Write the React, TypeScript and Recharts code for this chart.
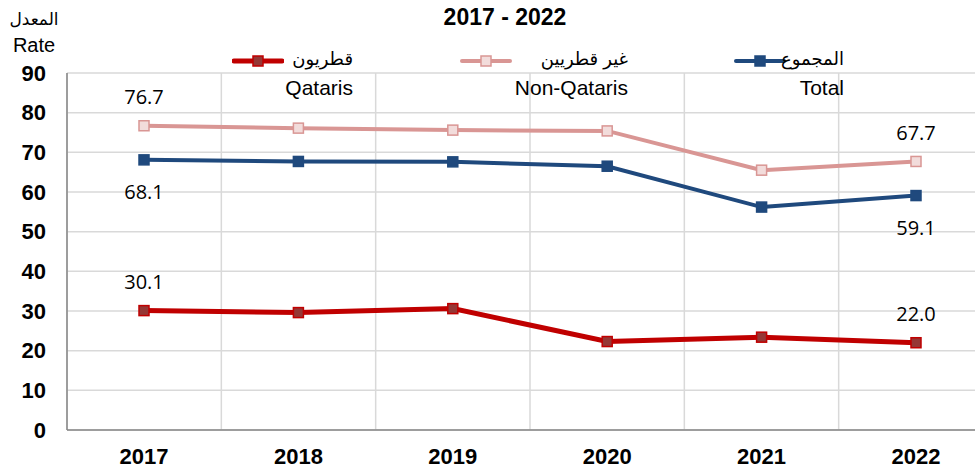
import { LineChart, Line, XAxis, YAxis, CartesianGrid } from "recharts";

const years = ["2017", "2018", "2019", "2020", "2021", "2022"];
const qataris = [30.1, 29.6, 30.6, 22.3, 23.4, 22.0];
const nonQataris = [76.7, 76.1, 75.6, 75.4, 65.5, 67.7];
const total = [68.1, 67.7, 67.6, 66.5, 56.2, 59.1];
const yTicks = [0, 10, 20, 30, 40, 50, 60, 70, 80, 90];

const seriesInfo = [
  { key: "qataris", ar: "قطريون", en: "Qataris", color: "#C00000", fill: "#953735", width: 5, right: 353, lineLeft: 232 },
  { key: "nonQataris", ar: "غير قطريين", en: "Non-Qataris", color: "#D99694", fill: "#F2DCDB", width: 4, right: 628, lineLeft: 460 },
  { key: "total", ar: "المجموع", en: "Total", color: "#1F497D", fill: "#1F497D", width: 4, right: 844, lineLeft: 734 },
];

const data = years.map((year, i) => ({
  year,
  qataris: qataris[i],
  nonQataris: nonQataris[i],
  total: total[i],
}));

const labelFont = "'Open Sans', 'Liberation Sans', sans-serif";
const arialFont = "'Liberation Sans', Arial, 'DejaVu Sans', sans-serif";

// marker + end value labels (first and last year only)
function makeDot(stroke: string, fill: string, labelDy: number) {
  return (props: any) => {
    const { cx, cy, index, value } = props;
    if (cx == null || cy == null) return <g key={`d-${index}`} />;
    const showLabel = index === 0 || index === years.length - 1;
    const v = Array.isArray(value) ? value[1] : value;
    return (
      <g key={`d-${stroke}-${index}`}>
        <rect x={cx - 5} y={cy - 5} width={10} height={10} fill={fill} stroke={stroke} strokeWidth={1.5} />
        {showLabel && (
          <text x={cx} y={cy + labelDy} textAnchor="middle" dominantBaseline="central" fontFamily={labelFont} fontSize={20} fill="#000">
            {Number(v).toFixed(1)}
          </text>
        )}
      </g>
    );
  };
}

function LegendBox() {
  return (
    <div style={{ position: "absolute", left: 0, top: 0, width: 1000, height: 100, pointerEvents: "none", zIndex: 2 }}>
      {seriesInfo.map((s) => (
        <div key={s.key}>
          <svg style={{ position: "absolute", left: s.lineLeft, top: 53 }} width={52} height={16}>
            <line x1={2} y1={8} x2={50} y2={8} stroke={s.color} strokeWidth={s.width} strokeLinecap="round" />
            <rect x={21} y={3} width={10} height={10} fill={s.fill} stroke={s.color} strokeWidth={1.5} />
          </svg>
          <div style={{ position: "absolute", right: 1000 - s.right, top: 47, fontFamily: arialFont, fontSize: 18, lineHeight: "24px", color: "#000", whiteSpace: "nowrap", direction: "rtl" }}>
            {s.ar}
          </div>
          <div style={{ position: "absolute", right: 1000 - s.right, top: 76, fontFamily: arialFont, fontSize: 21, lineHeight: "24px", color: "#000", whiteSpace: "nowrap" }}>
            {s.en}
          </div>
        </div>
      ))}
    </div>
  );
}

export default function App() {
  return (
    <div style={{ position: "absolute", left: 0, top: 0, width: 975, height: 469, overflow: "hidden", background: "#fff" }}>
      <div style={{ position: "absolute", left: 0, top: 4, width: 1010, textAlign: "center", fontFamily: arialFont, fontWeight: "bold", fontSize: 23, lineHeight: "26px", color: "#000" }}>
        2017 - 2022
      </div>
      <div style={{ position: "absolute", left: 0, top: 9, width: 68, textAlign: "center", fontFamily: arialFont, fontSize: 17, lineHeight: "22px", color: "#000", direction: "rtl" }}>
        المعدل
      </div>
      <div style={{ position: "absolute", left: 0, top: 33, width: 68, textAlign: "center", fontFamily: arialFont, fontSize: 20, lineHeight: "24px", color: "#000" }}>
        Rate
      </div>
      <LineChart width={1000} height={469} data={data} margin={{ top: 73, right: 7, bottom: 0, left: 0 }}>
        <CartesianGrid
          stroke="#D9D9D9"
          strokeWidth={1.5}
          verticalCoordinatesGenerator={({ offset }: any) =>
            years.map((_, i) => offset.left + (i * offset.width) / years.length).concat(offset.left + offset.width)
          }
        />
        <XAxis
          dataKey="year"
          padding={{ left: 77, right: 77 }}
          height={39}
          tickLine={false}
          tickMargin={12}
          axisLine={{ stroke: "#868686", strokeWidth: 1.5 }}
          tick={{ fontFamily: arialFont, fontWeight: "bold", fontSize: 22, fill: "#000" }}
          interval={0}
        />
        <YAxis
          domain={[0, 90]}
          ticks={yTicks}
          width={67}
          tickLine={false}
          tickMargin={15}
          axisLine={{ stroke: "#868686", strokeWidth: 1.5 }}
          tick={{ fontFamily: arialFont, fontWeight: "bold", fontSize: 22, fill: "#000" }}
          interval={0}
        />
        <Line dataKey="nonQataris" name="Non-Qataris" stroke="#D99694" strokeWidth={4} dot={makeDot("#D99694", "#F2DCDB", -29)} isAnimationActive={false} />
        <Line dataKey="total" name="Total" stroke="#1F497D" strokeWidth={4} dot={makeDot("#1F497D", "#1F497D", 32)} isAnimationActive={false} />
        <Line dataKey="qataris" name="Qataris" stroke="#C00000" strokeWidth={5} dot={makeDot("#C00000", "#953735", -29)} isAnimationActive={false} />
      </LineChart>
      <LegendBox />
    </div>
  );
}
